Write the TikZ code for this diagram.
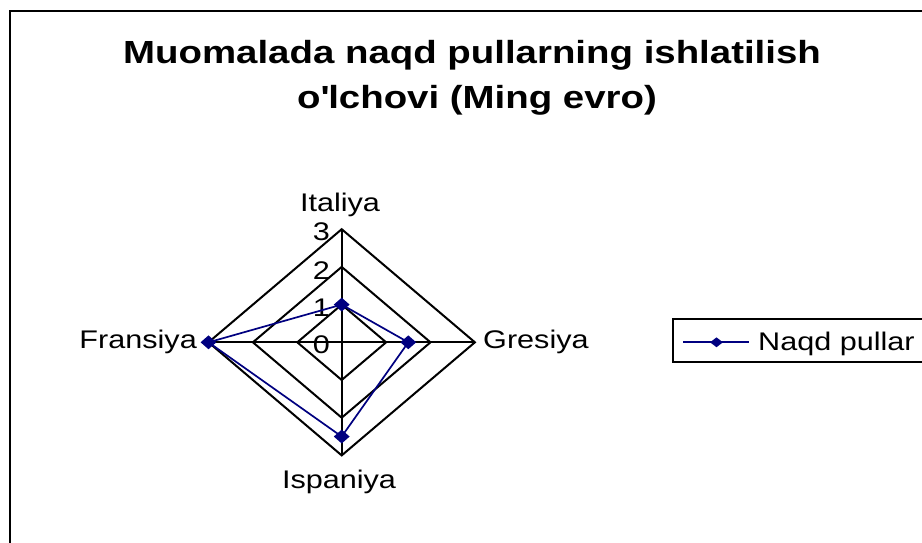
\documentclass[tikz,border=0pt]{standalone}
\usepackage{fontspec}
\setmainfont{Liberation Sans}[FakeStretch=1.2]
\usetikzlibrary{shapes.geometric}
\definecolor{navy}{RGB}{0,0,128}
\begin{document}
\begin{tikzpicture}[x=1pt,y=-1pt,
  grid/.style={draw=black,line width=2pt,line join=miter},
  series/.style={draw=navy,line width=1.7pt},
  mk/.style={diamond,fill=navy,inner sep=0pt,minimum width=16pt,minimum height=14pt},
  mksmall/.style={diamond,fill=navy,inner sep=0pt,minimum width=13pt,minimum height=10pt},
  lbl/.style={font=\fontsize{25.5}{30}\selectfont,inner sep=0pt},
  tick/.style={font=\fontsize{25.5}{30}\selectfont,inner sep=0pt,anchor=east},
  ttl/.style={font=\fontsize{32}{38}\selectfont\bfseries,inner sep=0pt,anchor=base}]
\useasboundingbox (0,0) rectangle (922,542);
\clip (0,0) rectangle (922,542);
\fill[white] (0,0) rectangle (922,542);
% outer frame
\draw[line width=2pt] (10,11) rectangle (940,560);
% title
\node[ttl] (t1) at (472,63.3) {Muomalada naqd pullarning ishlatilish};
\node[ttl] (t2) at (477,108.3) {o\textquotesingle lchovi (Ming evro)};
% geometry
\coordinate (C) at (341.7,342.3);
\path (C) ++(0,-37.7) coordinate (T1) ++(0,-37.7) coordinate (T2) ++(0,-37.7) coordinate (T3);
\path (C) ++(44.4,0) coordinate (R1) ++(44.4,0) coordinate (R2) ++(44.4,0) coordinate (R3);
\path (C) ++(0,37.7) coordinate (B1) ++(0,37.7) coordinate (B2) ++(0,37.7) coordinate (B3);
\path (C) ++(-44.4,0) coordinate (L1) ++(-44.4,0) coordinate (L2) ++(-44.4,0) coordinate (L3);
% rings
\foreach \r in {1,2,3}{
  \draw[grid] (T\r) -- (R\r) -- (B\r) -- (L\r) -- cycle;
}
% spokes
\draw[grid] (C) -- (T3);
\draw[grid] (C) -- (R3);
\draw[grid] (C) -- (B3);
\draw[grid] (C) -- (L3);
% tick labels
\node[tick] (n0) at (330,345) {0};
\node[tick] (n1) at (330,308) {1};
\node[tick] (n2) at (330,271) {2};
\node[tick] (n3) at (330,232) {3};
% category labels
\node[lbl,anchor=base] (cI) at (340,211.5) {Italiya};
\node[lbl,anchor=base west] (cG) at (483,348.3) {Gresiya};
\node[lbl,anchor=base] (cS) at (339,488.5) {Ispaniya};
\node[lbl,anchor=base east] (cF) at (197,348.3) {Fransiya};
% data
\path (C) ++(0,-37.7) coordinate (dI);
\path (C) ++(66.6,0) coordinate (dG);
\path (C) ++(0,94.25) coordinate (dS);
\path (C) ++(-133.2,0) coordinate (dF);
\draw[series] (dI) -- (dG) -- (dS) -- (dF) -- cycle;
\node[mk] (mI) at (dI) {};
\node[mk] (mG) at (dG) {};
\node[mk] (mS) at (dS) {};
\node[mk] (mF) at (dF) {};
% legend
\draw[line width=2pt] (672.7,319.3) rectangle (950,361.7);
\coordinate (la) at (683,342.3);
\coordinate (lb) at (749,342.3);
\draw[series] (la) -- (lb);
\node[mksmall] (lm) at (716.5,342.3) {};
\node[lbl,anchor=base west] (lt) at (758,350.5) {Naqd pullar};
\end{tikzpicture}
\end{document}
